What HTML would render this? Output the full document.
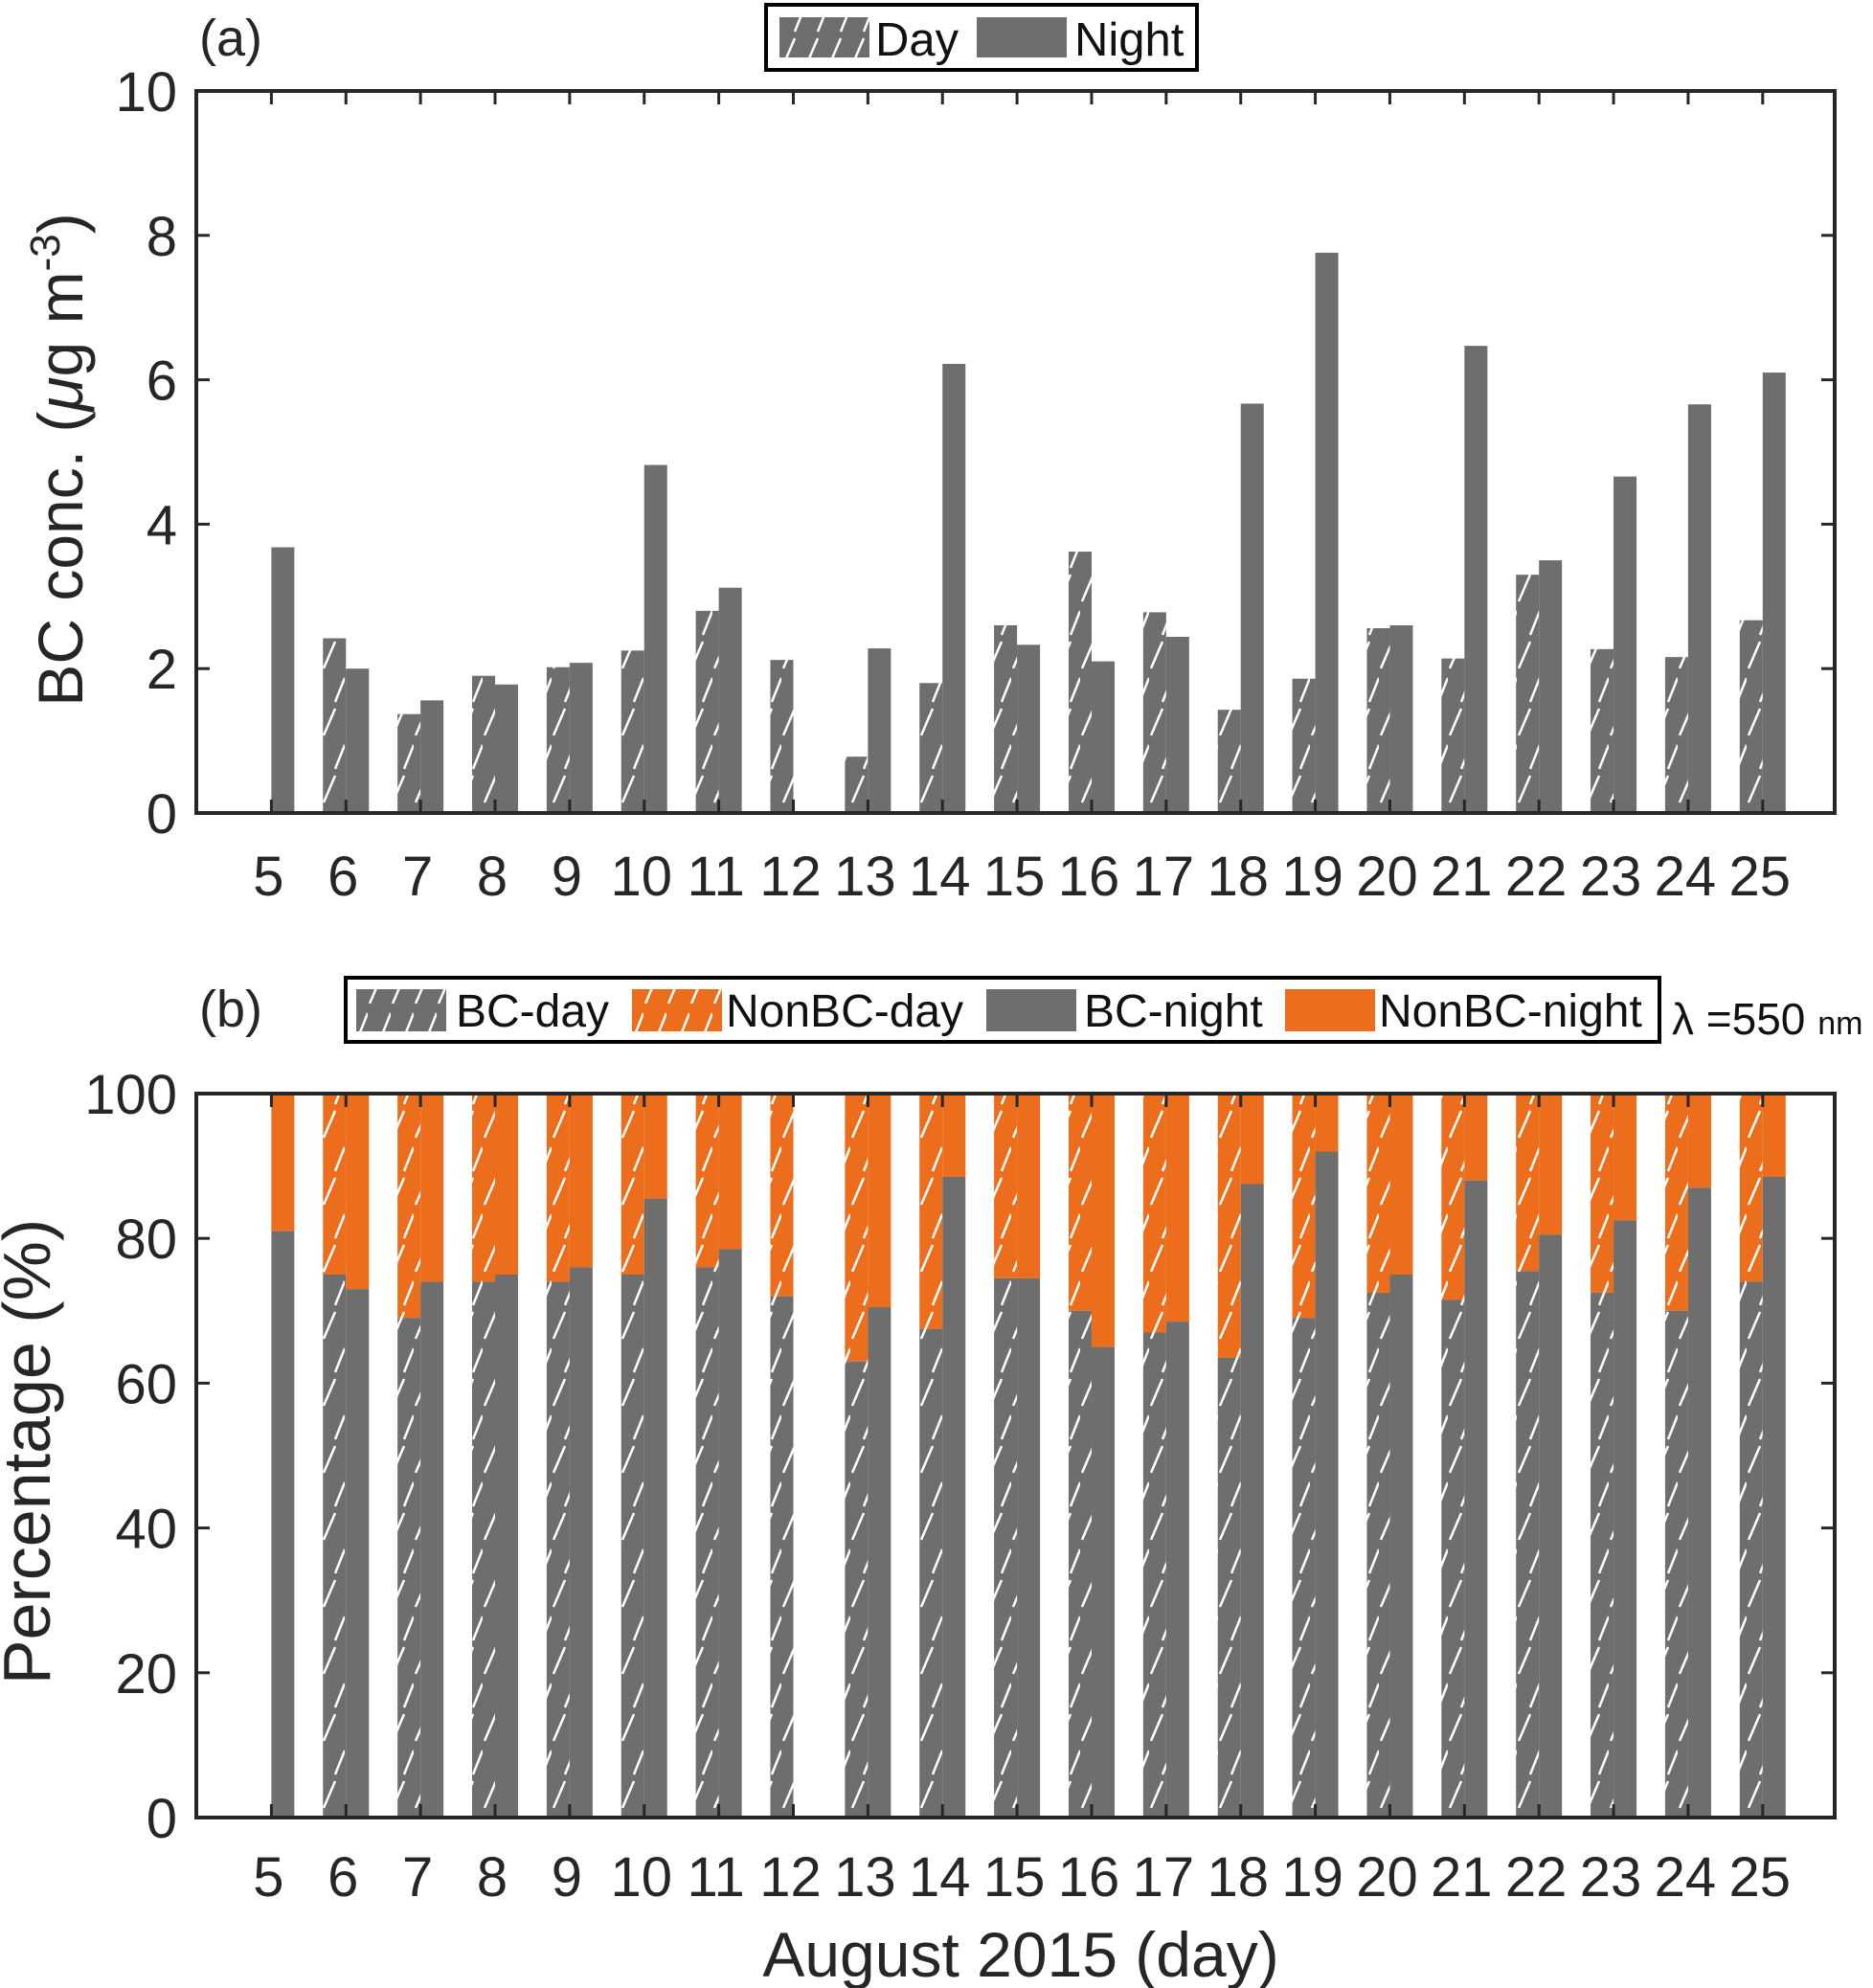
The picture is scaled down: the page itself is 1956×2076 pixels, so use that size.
<!DOCTYPE html>
<html><head><meta charset="utf-8"><style>
html,body{margin:0;padding:0;background:#fff;}
svg{display:block;font-family:"Liberation Sans",sans-serif;}
</style></head><body>
<svg id="c" width="1956" height="2076" viewBox="0 0 1956 2076" xmlns="http://www.w3.org/2000/svg">
<defs>
<pattern id="hg" patternUnits="userSpaceOnUse" width="24" height="70">
<rect width="24" height="70" fill="#6e6e6e"/>
<line x1="2" y1="68" x2="14" y2="40" stroke="#fff" stroke-width="2.5"/>
<line x1="14" y1="33" x2="24" y2="8" stroke="#fff" stroke-width="2.5"/>
</pattern>
<pattern id="ho" patternUnits="userSpaceOnUse" width="24" height="70">
<rect width="24" height="70" fill="#ec6d1b"/>
<line x1="2" y1="68" x2="14" y2="40" stroke="#fff" stroke-width="2.5"/>
<line x1="14" y1="33" x2="24" y2="8" stroke="#fff" stroke-width="2.5"/>
</pattern>
</defs>
</svg>
<script>
const days=[5,6,7,8,9,10,11,12,13,14,15,16,17,18,19,20,21,22,23,24,25];
const bcDay=[0,2.42,1.37,1.9,2.02,2.25,2.8,2.12,0.78,1.8,2.6,3.62,2.78,1.43,1.86,2.56,2.14,3.3,2.27,2.16,2.67];
const bcNight=[3.68,2.0,1.56,1.78,2.08,4.82,3.12,0,2.28,6.22,2.33,2.1,2.44,5.67,7.76,2.6,6.47,3.5,4.66,5.66,6.1];
const pctDay=[0,75,69,74,74,75,76,72,63,67.5,74.5,70,67,63.5,69,72.5,71.5,75.5,72.5,70,74];
const pctNight=[81,73,74,75,76,85.5,78.5,0,70.5,88.5,74.5,65,68.5,87.5,92,75,88,80.5,82.5,87,88.5];
const ticksA=[0,2,4,6,8,10];
const ticksB=[0,20,40,60,80,100];

const svg=document.getElementById('c');
const NS='http://www.w3.org/2000/svg';
function mk(tag,attrs,parent){const e=document.createElementNS(NS,tag);for(const k in attrs)e.setAttribute(k,attrs[k]);(parent||svg).appendChild(e);return e;}
const L=205,R=1916;
const xB=d=>283.4+(d-5)*77.87;
const BW=24;
const A={top:95,bot:849,max:10};
const B={top:1142,bot:1898,max:100};
const yA=v=>A.bot-(v/A.max)*(A.bot-A.top);
const yB=v=>B.bot-(v/B.max)*(B.bot-B.top);

function frame(P,ticks,yf,name,labY){
  const g=mk('g',{});
  
  
  ticks.forEach(t=>{
    const y=yf(t);
    const tl=mk('text',{x:185,y:y+21,'font-size':58,'text-anchor':'end',fill:'#262626'},g);
    tl.textContent=t;
    
    
    mk('line',{x1:L,y1:y,x2:L+14,y2:y,stroke:'#262626','stroke-width':3},g);
    mk('line',{x1:R,y1:y,x2:R-14,y2:y,stroke:'#262626','stroke-width':3},g);
  });
  days.forEach(d=>{
    const x=xB(d);
    mk('line',{x1:x,y1:P.top,x2:x,y2:P.top+14,stroke:'#262626','stroke-width':3},g);
    mk('line',{x1:x,y1:P.bot,x2:x,y2:P.bot-14,stroke:'#262626','stroke-width':3},g);
    const tl=mk('text',{x:x-3,y:labY,'font-size':58,'text-anchor':'middle',fill:'#262626'},g);
    tl.textContent=d;
    
    
  });
}

days.forEach((d,i)=>{
  const x=xB(d);
  if(bcDay[i]>0){const r=mk('rect',{x:x-BW,y:yA(bcDay[i]),width:BW,height:A.bot-yA(bcDay[i]),fill:'url(#hg)'});
  }
  if(bcNight[i]>0){const r=mk('rect',{x:x,y:yA(bcNight[i]),width:BW,height:A.bot-yA(bcNight[i]),fill:'#6e6e6e'});
  }
});
days.forEach((d,i)=>{
  const x=xB(d);
  if(pctDay[i]>0){
    let r=mk('rect',{x:x-BW,y:B.top,width:BW,height:yB(pctDay[i])-B.top,fill:'url(#ho)'});
    
    r=mk('rect',{x:x-BW,y:yB(pctDay[i]),width:BW,height:B.bot-yB(pctDay[i]),fill:'url(#hg)'});
    
  }
  if(pctNight[i]>0){
    let r=mk('rect',{x:x,y:B.top,width:BW,height:yB(pctNight[i])-B.top,fill:'#ec6d1b'});
    
    r=mk('rect',{x:x,y:yB(pctNight[i]),width:BW,height:B.bot-yB(pctNight[i]),fill:'#6e6e6e'});
    
  }
});
frame(A,ticksA,yA,'panel-a',935);
frame(B,ticksB,yB,'panel-b',1980);
[A,B].forEach((P,k)=>{
  const r=mk('rect',{x:L,y:P.top,width:R-L,height:P.bot-P.top,fill:'none',stroke:'#262626','stroke-width':4});
  
});
</script>
<div style="position:absolute;left:0;top:0;width:1956px;height:2076px;pointer-events:none">
<svg width="1956" height="2076" style="position:absolute;left:0;top:0">
<text x="208" y="58" font-size="54" fill="#262626">(a)</text>
<text x="208" y="1072" font-size="54" fill="#262626">(b)</text>
<text transform="translate(86,480) rotate(-90)" font-size="66" text-anchor="middle" fill="#262626">BC  conc. (<tspan font-style="italic">μ</tspan>g m<tspan dy="-24" font-size="44">-3</tspan><tspan dy="24">)</tspan></text>
<text transform="translate(52,1516) rotate(-90)" font-size="70" text-anchor="middle" fill="#262626">Percentage (%)</text>
<text x="1066" y="2064" font-size="66" text-anchor="middle" fill="#262626">August 2015 (day)</text>
<g>
<rect x="800" y="5" width="450" height="68" fill="#fff" stroke="#000" stroke-width="4"/>
<rect x="814" y="18" width="94" height="42" fill="url(#hg)"/>
<text x="914" y="58" font-size="49" fill="#111">Day</text>
<rect x="1020" y="18" width="94" height="42" fill="#6e6e6e"/>
<text x="1122" y="58" font-size="49" fill="#111">Night</text>
</g>
<g>
<rect x="361" y="1021" width="1372" height="67" fill="#fff" stroke="#000" stroke-width="4"/>
<rect x="372" y="1033" width="94" height="44" fill="url(#hg)"/>
<text x="476" y="1072" font-size="48" fill="#111">BC-day</text>
<rect x="660" y="1033" width="94" height="44" fill="url(#ho)"/>
<text x="758" y="1072" font-size="48" fill="#111">NonBC-day</text>
<rect x="1030" y="1033" width="94" height="44" fill="#6e6e6e"/>
<text x="1132" y="1072" font-size="48" fill="#111">BC-night</text>
<rect x="1342" y="1033" width="94" height="44" fill="#ec6d1b"/>
<text x="1440" y="1072" font-size="48" fill="#111">NonBC-night</text>
</g>
<text x="1746" y="1080" font-size="46" fill="#111">λ =550 <tspan font-size="34">nm</tspan></text>
</svg>
</div>
</body></html>
